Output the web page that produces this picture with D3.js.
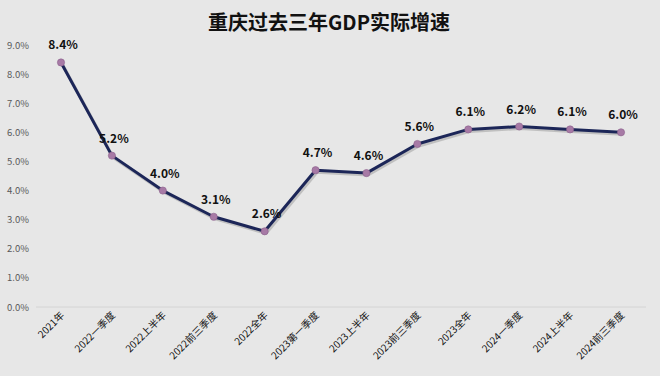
<!DOCTYPE html>
<html>
<head>
<meta charset="utf-8">
<script src="https://cdn.jsdelivr.net/npm/d3@7"></script>
<style>
  body { margin: 0; background: #e7e7e7; }
  svg { display: block; font-family: "Noto Sans CJK SC", "Noto Sans", sans-serif; }
</style>
</head>
<body>
<div id="chart"></div>
<script>
// periods and real GDP growth (%)
const periods = ["2021年", "2022一季度", "2022上半年", "2022前三季度", "2022全年", "2023第一季度",
                 "2023上半年", "2023前三季度", "2023全年", "2024一季度", "2024上半年", "2024前三季度"];
const growth = [8.4, 5.2, 4.0, 3.1, 2.6, 4.7, 4.6, 5.6, 6.1, 6.2, 6.1, 6.0];
const yTicks = [0, 1, 2, 3, 4, 5, 6, 7, 8, 9];

const width = 660, height = 376;
const svg = d3.select("#chart").append("svg")
    .attr("width", width).attr("height", height);

svg.append("rect").attr("width", width).attr("height", height).attr("fill", "#e7e7e7");

svg.append("text")
    .attr("x", 329).attr("y", 30)
    .attr("text-anchor", "middle")
    .style("font-size", "20px").style("font-weight", "bold").style("fill", "#111")
    .text("重庆过去三年GDP实际增速");

const x = d3.scalePoint().domain(periods).range([61, 621]);
const y = d3.scaleLinear().domain([0, 9]).range([307, 45]);

// baseline
svg.append("line")
    .attr("x1", 36).attr("x2", 646)
    .attr("y1", y(0)).attr("y2", y(0))
    .attr("stroke", "#d4d4d4").attr("stroke-width", 1);

// y tick labels
svg.append("g").selectAll("text")
    .data(yTicks)
    .join("text")
    .attr("x", 29).attr("y", d => y(d) + 3.5)
    .attr("text-anchor", "end")
    .style("font-size", "9.5px").style("fill", "#595959")
    .text(d => d.toFixed(1) + "%");

// x labels rotated
svg.append("g").selectAll("text")
    .data(periods)
    .join("text")
    .attr("transform", d => `translate(${x(d) + 4},${316}) rotate(-45)`)
    .attr("text-anchor", "end")
    .style("font-size", "10px").style("fill", "#111")
    .text(d => d);

const line = d3.line().x((d, i) => x(periods[i])).y(d => y(d));

// shadow
svg.append("path")
    .datum(growth)
    .attr("d", line)
    .attr("transform", "translate(1.5,2)")
    .attr("fill", "none").attr("stroke", "#9a9a9a").attr("stroke-opacity", 0.5)
    .attr("stroke-width", 3);

svg.append("path")
    .datum(growth)
    .attr("d", line)
    .attr("fill", "none").attr("stroke", "#1c2658")
    .attr("stroke-width", 3).attr("stroke-linejoin", "round");

svg.append("g").selectAll("circle")
    .data(growth)
    .join("circle")
    .attr("cx", (d, i) => x(periods[i])).attr("cy", d => y(d))
    .attr("r", 3.6)
    .attr("fill", "#a77aa6").attr("stroke", "#8c5f8c").attr("stroke-width", 0.6);

svg.append("g").selectAll("text")
    .data(growth)
    .join("text")
    .attr("x", (d, i) => x(periods[i]) + 2).attr("y", d => y(d) - 13)
    .attr("text-anchor", "middle")
    .style("font-size", "12px").style("font-weight", "bold").style("fill", "#111")
    .text(d => d.toFixed(1) + "%");
</script>
</body>
</html>
